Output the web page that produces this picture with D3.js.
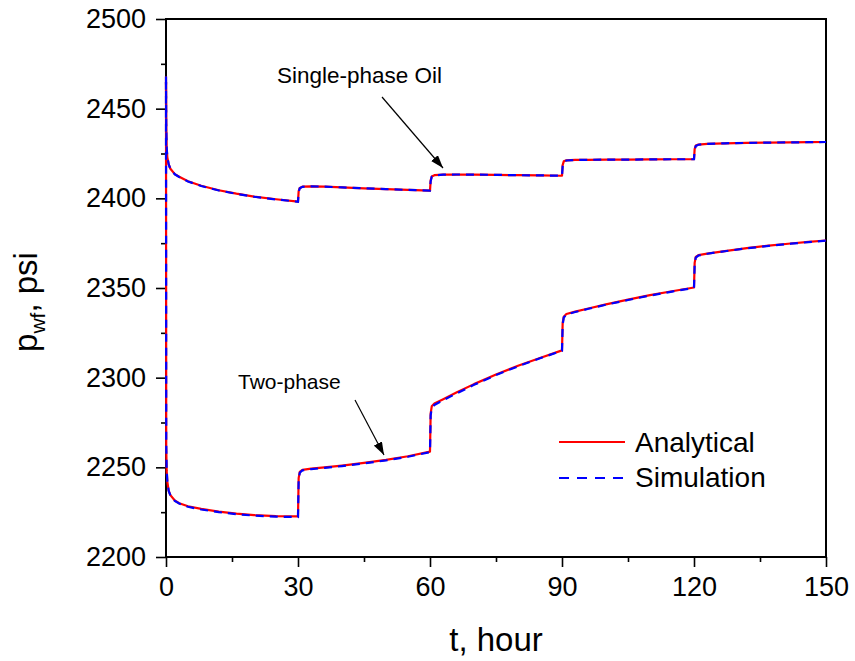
<!DOCTYPE html>
<html>
<head>
<meta charset="utf-8">
<script src="https://cdn.jsdelivr.net/npm/d3@7"></script>
<style>
  html, body { margin: 0; padding: 0; background: #fff; }
  svg { display: block; }
  text { font-family: "Liberation Sans", Arial, sans-serif; fill: #000; }
</style>
</head>
<body>
<svg id="chart" width="855" height="661"></svg>
<script>
// Time grid (hours); rate changes every 30 h
const timeHours = [
  0, 0.05, 0.15, 0.3, 0.6, 1, 2, 3, 5, 8, 12, 16, 20, 25, 30,
  30.15, 30.4, 31, 33, 36, 40, 45, 50, 55, 60,
  60.15, 60.4, 61, 63, 66, 70, 75, 80, 85, 90,
  90.15, 90.4, 91, 93, 96, 100, 105, 110, 115, 120,
  120.15, 120.4, 121, 123, 127, 132, 137, 142, 146, 150
];

// Single-phase oil, bottom-hole flowing pressure (psi)
const oilAnalytical = [
  2468, 2440, 2428, 2423, 2419, 2416.5, 2413.5, 2412, 2409.5, 2407, 2404.5, 2402.6, 2401, 2399.5, 2398.2,
  2404, 2405.8, 2406.5, 2406.7, 2406.5, 2406.1, 2405.6, 2405.1, 2404.7, 2404.3,
  2410, 2412.2, 2412.9, 2413.2, 2413.3, 2413.2, 2413.1, 2412.9, 2412.8, 2412.6,
  2418.5, 2420.6, 2421.2, 2421.4, 2421.5, 2421.6, 2421.6, 2421.7, 2421.8, 2421.8,
  2427.5, 2429.4, 2430, 2430.4, 2430.7, 2430.9, 2431.1, 2431.2, 2431.3, 2431.4
];
const oilSimulation = [
  2468, 2441, 2428.5, 2423.2, 2419, 2416.4, 2413.4, 2411.9, 2409.4, 2406.9, 2404.4, 2402.5, 2400.9, 2399.4, 2398.1,
  2403.5, 2405.6, 2406.4, 2406.7, 2406.5, 2406.1, 2405.6, 2405.1, 2404.7, 2404.3,
  2409.5, 2412, 2412.8, 2413.2, 2413.3, 2413.2, 2413.1, 2412.9, 2412.8, 2412.6,
  2418, 2420.4, 2421.1, 2421.4, 2421.5, 2421.6, 2421.6, 2421.7, 2421.8, 2421.8,
  2427, 2429.2, 2429.9, 2430.4, 2430.7, 2430.9, 2431.1, 2431.2, 2431.3, 2431.4
];

// Two-phase flow, bottom-hole flowing pressure (psi)
const twoPhaseAnalytical = [
  2465, 2262, 2248, 2242, 2237, 2234.5, 2231.5, 2230, 2228.3, 2226.8, 2225.3, 2224.2, 2223.4, 2222.8, 2222.6,
  2244, 2247.5, 2248.6, 2249.3, 2250, 2251, 2252.5, 2254.2, 2256.2, 2258.8,
  2280, 2284, 2285.6, 2288, 2291.7, 2296.4, 2301.8, 2306.6, 2311, 2315.2,
  2330.5, 2334, 2335.5, 2336.8, 2338.6, 2340.9, 2343.5, 2346, 2348.2, 2350.3,
  2364, 2367.3, 2368.3, 2369.2, 2370.6, 2372.2, 2373.6, 2374.8, 2375.7, 2376.5
];
const twoPhaseSimulation = [
  2465, 2264, 2249, 2242.5, 2237, 2234.3, 2231.3, 2229.8, 2228, 2226.5, 2225, 2223.9, 2223.1, 2222.5, 2222.3,
  2243, 2247, 2248.3, 2249, 2249.7, 2250.7, 2252.2, 2253.9, 2255.9, 2258.5,
  2279, 2283, 2284.8, 2287.4, 2291.2, 2296, 2301.5, 2306.3, 2310.8, 2315,
  2329.5, 2333.5, 2335.2, 2336.6, 2338.4, 2340.7, 2343.3, 2345.8, 2348, 2350.1,
  2363, 2367, 2368.1, 2369.1, 2370.5, 2372.1, 2373.5, 2374.7, 2375.6, 2376.4
];

const xTicks = [0, 30, 60, 90, 120, 150];
const xMinorTicks = [15, 45, 75, 105, 135];
const yTicks = [2200, 2250, 2300, 2350, 2400, 2450, 2500];
const yMinorTicks = [2225, 2275, 2325, 2375, 2425, 2475];

const legendLabels = ["Analytical", "Simulation"];

const svg = d3.select("#chart");
const margin = { left: 166, top: 19, right: 29, bottom: 104 };
const W = 855 - margin.left - margin.right;
const H = 661 - margin.top - margin.bottom;

const x = d3.scaleLinear().domain([0, 150]).range([0, W]);
const y = d3.scaleLinear().domain([2200, 2500]).range([H, 0]);

const g = svg.append("g").attr("transform", `translate(${margin.left},${margin.top})`);

// arrowhead marker
svg.append("defs").append("marker")
  .attr("id", "arrow")
  .attr("viewBox", "0 0 13 9")
  .attr("refX", 13).attr("refY", 4.5)
  .attr("markerWidth", 13).attr("markerHeight", 9)
  .attr("markerUnits", "userSpaceOnUse")
  .attr("orient", "auto")
  .append("path").attr("d", "M0,0 L13,4.5 L0,9 Z").attr("fill", "#000");

// frame
g.append("rect").attr("x", 0).attr("y", 0).attr("width", W).attr("height", H)
  .attr("fill", "none").attr("stroke", "#000").attr("stroke-width", 2);

// axes
const xAxis = g.append("g").attr("transform", `translate(0,${H})`)
  .call(d3.axisBottom(x).tickValues(xTicks).tickSize(10).tickPadding(10).tickFormat(d3.format("d")));
const xMinor = g.append("g").attr("transform", `translate(0,${H})`)
  .call(d3.axisBottom(x).tickValues(xMinorTicks).tickSize(5).tickFormat(""));
const yAxis = g.append("g")
  .call(d3.axisLeft(y).tickValues(yTicks).tickSize(10).tickPadding(10).tickFormat(d3.format("d")));
const yMinor = g.append("g")
  .call(d3.axisLeft(y).tickValues(yMinorTicks).tickSize(5).tickFormat(""));

[xAxis, xMinor, yAxis, yMinor].forEach(a => {
  a.select(".domain").remove();
  a.selectAll(".tick line").attr("stroke", "#000").attr("stroke-width", 1.6);
  a.selectAll("text").style("font-family", '"Liberation Sans", Arial, sans-serif')
    .style("font-size", "27px").attr("fill", "#000");
});

// curves: analytical solid red, simulation dashed blue on top
const line = d3.line().x(d => x(d[0])).y(d => y(d[1]));
const pairs = vals => timeHours.map((t, i) => [t, vals[i]]);

[oilAnalytical, twoPhaseAnalytical].forEach(v => {
  g.append("path").datum(pairs(v)).attr("d", line)
    .attr("fill", "none").attr("stroke", "#ff0000").attr("stroke-width", 2.2)
    .attr("stroke-linejoin", "round");
});
[oilSimulation, twoPhaseSimulation].forEach(v => {
  g.append("path").datum(pairs(v)).attr("d", line)
    .attr("fill", "none").attr("stroke", "#0000ff").attr("stroke-width", 2.2)
    .attr("stroke-dasharray", "8,6");
});

// axis titles
svg.append("text").attr("x", margin.left + W / 2).attr("y", 651)
  .attr("text-anchor", "middle").style("font-size", "33px").text("t, hour");

const yl = svg.append("text")
  .attr("transform", `translate(37,302) rotate(-90)`)
  .attr("text-anchor", "middle").style("font-size", "33px");
yl.append("tspan").text("p");
yl.append("tspan").attr("dy", 8).style("font-size", "21px").text("wf");
yl.append("tspan").attr("dy", -8).text(", psi");

// annotations
svg.append("text").attr("x", 277).attr("y", 83).style("font-size", "22.5px").text("Single-phase Oil");
svg.append("line").attr("x1", 382).attr("y1", 97).attr("x2", 443).attr("y2", 168)
  .attr("stroke", "#000").attr("stroke-width", 1.2).attr("marker-end", "url(#arrow)");

svg.append("text").attr("x", 238).attr("y", 389).style("font-size", "21px").text("Two-phase");
svg.append("line").attr("x1", 355).attr("y1", 400).attr("x2", 384).attr("y2", 455)
  .attr("stroke", "#000").attr("stroke-width", 1.2).attr("marker-end", "url(#arrow)");

// legend
const legend = svg.append("g").attr("transform", "translate(559,0)");
legend.append("line").attr("x1", 0).attr("x2", 66).attr("y1", 442).attr("y2", 442)
  .attr("stroke", "#ff0000").attr("stroke-width", 2.2);
legend.append("line").attr("x1", 0).attr("x2", 64).attr("y1", 478).attr("y2", 478)
  .attr("stroke", "#0000ff").attr("stroke-width", 2.2).attr("stroke-dasharray", "10,8");
legend.append("text").attr("x", 76).attr("y", 452).style("font-size", "28px").text(legendLabels[0]);
legend.append("text").attr("x", 76).attr("y", 487).style("font-size", "28px").text(legendLabels[1]);
</script>
</body>
</html>
